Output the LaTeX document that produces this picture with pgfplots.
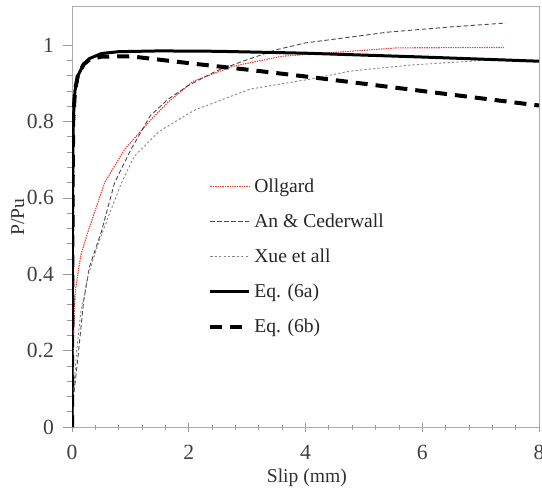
\documentclass[border=0pt]{standalone}
\usepackage{fontspec}
\setmainfont{Liberation Serif}
\usepackage{pgfplots}
\pgfplotsset{compat=1.18}
\definecolor{ollred}{HTML}{F03A32}
\definecolor{ancol}{HTML}{4A4A4A}
\definecolor{xuecol}{HTML}{858585}
\begin{document}
\begin{tikzpicture}
\begin{axis}[
  scale only axis,
  width=233.5pt, height=210pt,
  xmin=0, xmax=8, ymin=0, ymax=1.1,
  xtick={0,2,4,6,8},
  ytick={0,0.2,0.4,0.6,0.8,1},
  yticklabels={0,0.2,0.4,0.6,0.8,1},
  minor x tick num=4,
  minor y tick num=4,
  xtick pos=bottom, ytick pos=left,
  xtick align=center, ytick align=outside,
  major tick length=4.5pt, minor tick length=2.5pt,
  tick style={gray!80, line width=0.4pt},
  axis line style={gray!65, line width=0.5pt},
  /pgf/number format/assume math mode=true,
  tick label style={font=\fontsize{10.8}{12}\selectfont, text=black!75},
  xticklabel style={yshift=-3.5pt},
  yticklabel style={xshift=-1pt},
  label style={font=\fontsize{9.8}{11}\selectfont, text=black!80},
  xlabel={Slip (mm)},
  ylabel={P/Pu},
  xlabel style={at={(axis description cs:0.503,-0.12)}, anchor=center},
  ylabel style={at={(axis description cs:-0.116,0.5)}, anchor=center},
  legend style={at={(rel axis cs:0.291,0.6)}, anchor=north west, draw=none, fill=none,
    font=\fontsize{9.8}{11}\selectfont, row sep=6.2pt, inner sep=0pt,
    nodes={inner sep=1.5pt, text=black!85}},
  legend cell align=left,
  legend image code/.code={\draw[#1] (0pt,0pt) -- (19.5pt,0pt);},
]
% Ollgard
\addplot[draw=ollred, line width=0.55pt, dash pattern=on 0.7pt off 0.5pt] coordinates {
  (0,0) (0.01,0.1) (0.02,0.2) (0.04,0.3) (0.06,0.36) (0.15,0.45) (0.27,0.51)
  (0.56,0.64) (0.9,0.727) (1.36,0.806) (1.64,0.85) (2.07,0.905) (2.76,0.945)
  (3.6,0.971) (4.76,0.984) (5.58,0.993) (7.4,0.994)
};
% An & Cederwall
\addplot[draw=ancol, line width=0.45pt, dash pattern=on 2.2pt off 1.3pt] coordinates {
  (0,0) (0.02,0.07) (0.1,0.18) (0.2,0.33) (0.3,0.42) (0.5,0.51) (0.73,0.64)
  (1.01,0.727) (1.34,0.815) (1.64,0.858) (2.0,0.895) (2.48,0.933) (3.0,0.962)
  (3.5,0.988) (4.0,1.006) (4.76,1.021) (5.4,1.034) (6.5,1.048) (7.43,1.058)
};
% Xue et all
\addplot[draw=xuecol, line width=0.45pt, dash pattern=on 1.1pt off 1.1pt] coordinates {
  (0,0) (0.03,0.1) (0.08,0.2) (0.15,0.3) (0.28,0.4) (0.45,0.48) (0.62,0.55)
  (0.85,0.64) (1.07,0.71) (1.5,0.775) (2.1,0.83) (2.36,0.845) (3.05,0.885)
  (4.08,0.911) (4.76,0.932) (5.8,0.948) (6.83,0.958) (7.4,0.965)
};
% Eq. (6a)
\addplot[draw=black, line width=1.5pt] coordinates {
  (0,0) (0.005,0.3) (0.01,0.6) (0.02,0.8) (0.05,0.88) (0.1,0.92) (0.2,0.95)
  (0.3,0.965) (0.5,0.978) (0.8,0.983) (1.5,0.985) (2.5,0.984) (4,0.979)
  (6,0.969) (8,0.958)
};
% Eq. (6b)
\addplot[draw=black, line width=2pt, dash pattern=on 6pt off 4pt] coordinates {
  (0,0) (0.005,0.3) (0.01,0.6) (0.02,0.8) (0.05,0.88) (0.1,0.92) (0.2,0.95)
  (0.3,0.962) (0.5,0.97) (1,0.971) (1.5,0.962) (2,0.953) (3,0.936) (4,0.918)
  (5,0.899) (6,0.88) (7,0.861) (8,0.842)
};
\legend{Ollgard, An \& Cederwall, Xue et all, Eq. (6a), Eq. (6b)}
\end{axis}
\pgfresetboundingbox
\path ([xshift=-36pt,yshift=-30.5pt]current axis.south west) rectangle ([xshift=1.5pt,yshift=3.5pt]current axis.north east);
\end{tikzpicture}
\end{document}
